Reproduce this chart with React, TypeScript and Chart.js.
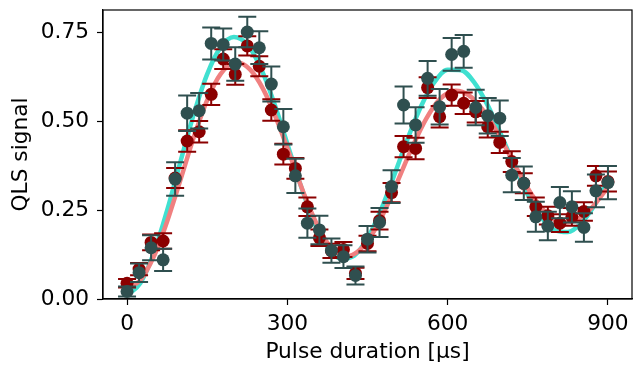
import React, { useEffect, useRef } from 'react';
import { Chart, registerables } from 'chart.js';

Chart.register(...registerables);

const pulseTimes = [0, 22.5, 45, 67.5, 90, 112.5, 135, 157.5, 180, 202.5, 225, 247.5, 270, 292.5, 315, 337.5, 360, 382.5, 405, 427.5, 450, 472.5, 495, 517.5, 540, 562.5, 585, 607.5, 630, 652.5, 675, 697.5, 720, 742.5, 765, 787.5, 810, 832.5, 855, 877.5, 900];

const signalSlate = [0.021, 0.074, 0.144, 0.110, 0.337, 0.522, 0.529, 0.718, 0.715, 0.660, 0.750, 0.706, 0.604, 0.484, 0.346, 0.213, 0.194, 0.136, 0.119, 0.066, 0.168, 0.215, 0.316, 0.545, 0.489, 0.620, 0.540, 0.687, 0.696, 0.538, 0.515, 0.508, 0.348, 0.325, 0.231, 0.205, 0.271, 0.259, 0.201, 0.304, 0.327];
const errorSlate = [0.014, 0.026, 0.035, 0.031, 0.047, 0.050, 0.050, 0.045, 0.045, 0.047, 0.043, 0.046, 0.049, 0.050, 0.048, 0.041, 0.040, 0.034, 0.032, 0.025, 0.037, 0.041, 0.046, 0.052, 0.050, 0.049, 0.050, 0.046, 0.046, 0.050, 0.050, 0.050, 0.048, 0.047, 0.042, 0.040, 0.044, 0.044, 0.040, 0.046, 0.047];

const signalRed = [0.044, 0.084, 0.159, 0.163, 0.340, 0.444, 0.470, 0.575, 0.674, 0.631, 0.711, 0.654, 0.531, 0.407, 0.367, 0.259, 0.172, 0.135, 0.139, 0.072, 0.156, 0.220, 0.299, 0.428, 0.423, 0.594, 0.512, 0.573, 0.550, 0.526, 0.484, 0.440, 0.386, 0.325, 0.259, 0.234, 0.213, 0.231, 0.246, 0.346, 0.330];
const errorRed = [0.012, 0.017, 0.022, 0.022, 0.028, 0.030, 0.030, 0.030, 0.028, 0.029, 0.027, 0.028, 0.030, 0.029, 0.029, 0.026, 0.023, 0.020, 0.021, 0.016, 0.022, 0.025, 0.027, 0.030, 0.030, 0.029, 0.030, 0.030, 0.030, 0.030, 0.030, 0.030, 0.029, 0.028, 0.026, 0.025, 0.025, 0.025, 0.026, 0.028, 0.028];

const fitSlateTimes = [0, 25, 50, 75, 100, 125, 150, 175, 200, 225, 250, 275, 300, 325, 350, 375, 400, 425, 450, 475, 500, 525, 550, 575, 600, 625, 650, 675, 700, 725, 750, 775, 800, 825, 850, 875, 900];
const fitSlateValues = [0.010, 0.045, 0.129, 0.249, 0.386, 0.520, 0.632, 0.707, 0.736, 0.715, 0.650, 0.552, 0.436, 0.319, 0.217, 0.146, 0.113, 0.122, 0.171, 0.250, 0.348, 0.450, 0.541, 0.609, 0.644, 0.643, 0.608, 0.544, 0.462, 0.374, 0.293, 0.230, 0.194, 0.188, 0.213, 0.264, 0.332];

const fitRedTimes = [0, 25, 50, 75, 100, 125, 150, 175, 205, 230, 255, 280, 305, 330, 355, 380, 410, 435, 460, 485, 510, 535, 560, 585, 615, 640, 665, 690, 715, 740, 765, 790, 820, 845, 870, 900];
const fitRedValues = [0.030, 0.053, 0.119, 0.218, 0.335, 0.455, 0.559, 0.632, 0.665, 0.645, 0.589, 0.504, 0.403, 0.300, 0.211, 0.148, 0.120, 0.137, 0.185, 0.257, 0.344, 0.431, 0.507, 0.561, 0.585, 0.572, 0.533, 0.476, 0.407, 0.337, 0.277, 0.234, 0.215, 0.226, 0.257, 0.314];

const xTickValues = [0, 300, 600, 900];
const yTickValues = [0, 0.25, 0.5, 0.75];

const FONT = 'DejaVu Sans';
const FONT_SIZE = 21.7;

const errorBarPlugin = {
  id: 'errorBars',
  beforeDatasetDraw(chart: any, args: any) {
    const ds = chart.data.datasets[args.index];
    if (!ds.errors) return;
    const ctx = chart.ctx;
    const xs = chart.scales.x;
    const ys = chart.scales.y;
    ctx.save();
    ctx.strokeStyle = ds.errorColor;
    ctx.lineWidth = 2;
    ds.data.forEach((p: any, i: number) => {
      const px = xs.getPixelForValue(p.x);
      const top = ys.getPixelForValue(p.y + ds.errors[i]);
      const bot = ys.getPixelForValue(p.y - ds.errors[i]);
      ctx.beginPath();
      ctx.moveTo(px, top);
      ctx.lineTo(px, bot);
      ctx.moveTo(px - 9, top);
      ctx.lineTo(px + 9, top);
      ctx.moveTo(px - 9, bot);
      ctx.lineTo(px + 9, bot);
      ctx.stroke();
    });
    ctx.restore();
  },
};

const framePlugin = {
  id: 'frame',
  afterDatasetsDraw(chart: any) {
    const { ctx, chartArea } = chart;
    ctx.save();
    ctx.strokeStyle = '#000';
    ctx.lineWidth = 1.2;
    ctx.strokeRect(chartArea.left, chartArea.top, chartArea.right - chartArea.left, chartArea.bottom - chartArea.top);
    ctx.restore();
  },
};

export default function App() {
  const canvasRef = useRef<HTMLCanvasElement | null>(null);

  useEffect(() => {
    if (!canvasRef.current) return;
    const pts = (xs: number[], ys: number[]) => xs.map((x, i) => ({ x, y: ys[i] }));
    const chart = new Chart(canvasRef.current, {
      type: 'scatter',
      data: {
        datasets: [
          {
            label: 'slate',
            data: pts(pulseTimes, signalSlate),
            errors: errorSlate,
            errorColor: '#2F4F4F',
            backgroundColor: '#2F4F4F',
            borderWidth: 0,
            pointRadius: 6.5,
            showLine: false,
            order: 0,
          } as any,
          {
            label: 'red',
            data: pts(pulseTimes, signalRed),
            errors: errorRed,
            errorColor: '#8B0000',
            backgroundColor: '#8B0000',
            borderWidth: 0,
            pointRadius: 6.5,
            showLine: false,
            order: 1,
          } as any,
          {
            label: 'fitRed',
            data: pts(fitRedTimes, fitRedValues),
            showLine: true,
            borderColor: '#F08080',
            borderWidth: 4.5,
            pointRadius: 0,
            cubicInterpolationMode: 'monotone',
            order: 2,
          } as any,
          {
            label: 'fitSlate',
            data: pts(fitSlateTimes, fitSlateValues),
            showLine: true,
            borderColor: '#40E0D0',
            borderWidth: 4.5,
            pointRadius: 0,
            cubicInterpolationMode: 'monotone',
            order: 3,
          } as any,
        ],
      },
      options: {
        animation: false,
        responsive: true,
        maintainAspectRatio: false,
        layout: { autoPadding: false, padding: { top: 10, right: 2, left: 0, bottom: 0 } },
        plugins: { legend: { display: false }, tooltip: { enabled: false } },
        scales: {
          x: {
            type: 'linear',
            min: -45,
            max: 945,
            afterBuildTicks: (s: any) => {
              s.ticks = xTickValues.map((v) => ({ value: v }));
            },
            afterFit: (s: any) => {
              s.height = 66;
              s.paddingLeft = 0;
              s.paddingRight = 0;
            },
            grid: { drawOnChartArea: false, drawTicks: true, tickLength: 6, tickColor: '#000', tickWidth: 1.2 },
            border: { display: true, color: '#000', width: 1.2 },
            ticks: {
              color: '#000',
              font: { family: FONT, size: FONT_SIZE },
              padding: 6,
              maxRotation: 0,
              autoSkip: false,
              callback: (v: any) => String(v),
            },
            title: {
              display: true,
              text: 'Pulse duration [µs]',
              color: '#000',
              font: { family: FONT, size: FONT_SIZE },
              padding: { top: 0, bottom: 0 },
            },
          },
          y: {
            type: 'linear',
            min: 0,
            max: 0.812,
            afterBuildTicks: (s: any) => {
              s.ticks = yTickValues.map((v) => ({ value: v }));
            },
            afterFit: (s: any) => {
              s.width = 103;
              s.paddingTop = 0;
              s.paddingBottom = 0;
            },
            grid: { drawOnChartArea: false, drawTicks: true, tickLength: 6, tickColor: '#000', tickWidth: 1.2 },
            border: { display: true, color: '#000', width: 1.2 },
            ticks: {
              color: '#000',
              font: { family: FONT, size: FONT_SIZE },
              padding: 8,
              autoSkip: false,
              callback: (v: any) => Number(v).toFixed(2),
            },
            title: {
              display: true,
              text: 'QLS signal',
              color: '#000',
              font: { family: FONT, size: FONT_SIZE },
              padding: { top: 8, bottom: 0 },
            },
          },
        },
      } as any,
      plugins: [errorBarPlugin, framePlugin],
    });
    return () => chart.destroy();
  }, []);

  return (
    <div style={{ position: 'fixed', left: 0, top: 0, width: 634, height: 365, background: '#fff' }}>
      <canvas ref={canvasRef} />
    </div>
  );
}
